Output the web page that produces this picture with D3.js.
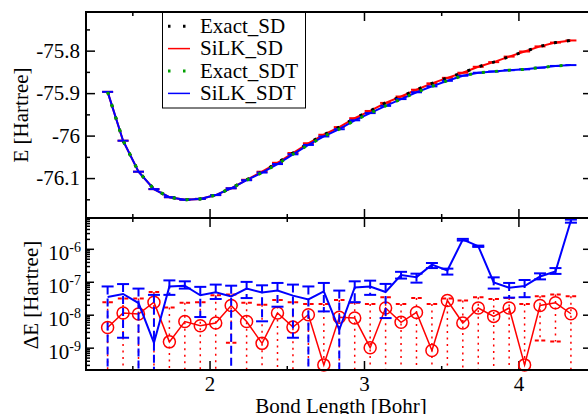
<!DOCTYPE html>
<html>
<head>
<meta charset="utf-8">
<script src="https://cdn.jsdelivr.net/npm/d3@7"></script>
<style>
body { margin: 0; background: #fff; }
svg text { font-family: "Liberation Serif", "Times New Roman", serif; fill: #000; }
</style>
</head>
<body>
<script>
// bond lengths [Bohr]
var bondLength = [1.34, 1.44, 1.54, 1.64, 1.74, 1.84, 1.94, 2.04, 2.14, 2.24, 2.34,
    2.44, 2.54, 2.64, 2.74, 2.84, 2.94, 3.04, 3.14, 3.24, 3.34, 3.44, 3.54, 3.64,
    3.74, 3.84, 3.94, 4.04, 4.14, 4.24, 4.34];

// total energies [Hartree] (exact and SiLK agree to ~1e-8)
var energySD = [-75.897, -76.012, -76.085, -76.126, -76.145, -76.151, -76.149, -76.140,
    -76.124, -76.104, -76.085, -76.064, -76.041, -76.018, -75.998, -75.980, -75.959,
    -75.942, -75.923, -75.908, -75.892, -75.877, -75.864, -75.852, -75.838, -75.827,
    -75.814, -75.802, -75.790, -75.781, -75.776];
var energySDT = [-75.897, -76.012, -76.085, -76.126, -76.145, -76.151, -76.149, -76.140,
    -76.124, -76.105, -76.087, -76.067, -76.044, -76.022, -76.002, -75.985, -75.964,
    -75.947, -75.930, -75.914, -75.898, -75.884, -75.871, -75.859, -75.852, -75.849,
    -75.846, -75.844, -75.840, -75.836, -75.834];

// |SiLK - exact| [Hartree]
var deltaSD = [4.1e-9, 1.13e-8, 1.05e-8, 2.4e-8, 1.5e-9, 6.2e-9, 4.6e-9, 5.6e-9, 1.9e-8,
    6.2e-9, 1.35e-9, 1.13e-8, 4.2e-9, 1.0e-8, 3.0e-10, 8.4e-9, 7.9e-9, 1.0e-9, 1.6e-8,
    5.9e-9, 1.17e-8, 8.2e-10, 2.7e-8, 5.6e-9, 1.6e-8, 8.9e-9, 1.6e-8, 3.0e-10, 1.9e-8,
    2.3e-8, 1.07e-8];
var deltaSDT = [3.45e-8, 4.25e-8, 2.26e-8, 1.4e-9, 7.2e-8, 7.6e-8, 3.9e-8, 4.8e-8, 3.6e-8,
    6.2e-8, 4.7e-8, 5.4e-8, 3.8e-8, 2.9e-8, 5.1e-8, 3.5e-9, 6.7e-8, 7.2e-8, 4.9e-8,
    1.6e-7, 1.38e-7, 3.3e-7, 2.2e-7, 1.9e-6, 1.2e-6, 9.6e-8, 6.6e-8, 7.4e-8, 1.44e-7,
    2.05e-7, 7.2e-6];

// error bar ends; 0 = lower end not positive (drawn down to the axis)
var errHiSD = [2.4e-8, 3.1e-8, 3.1e-8, 4.9e-8, 1.66e-8, 2.3e-8, 2.4e-8, 3.9e-8, 4.1e-8,
    2.3e-8, 2.0e-8, 2.8e-8, 2.4e-8, 2.1e-8, 2.1e-8, 2.8e-8, 2.3e-8, 2.1e-8, 3.4e-8,
    2.1e-8, 3.2e-8, 2.1e-8, 3.1e-8, 2.7e-8, 3.4e-8, 3.0e-8, 3.2e-8, 2.1e-8, 3.6e-8,
    4.1e-8, 3.6e-8];
var errLoSD = [0, 0, 0, 0, 0, 0, 0, 0, 1.4e-9, 0, 0, 0, 0, 0, 0, 0, 0, 0, 0, 0, 0, 0, 0,
    0, 0, 0, 0, 0, 1.66e-9, 1.55e-9, 0];
var errHiSDT = [7.2e-8, 8.5e-8, 6.2e-8, 4.0e-8, 1.1e-7, 1.03e-7, 7.0e-8, 8.2e-8, 7.6e-8,
    9.9e-8, 7.8e-8, 9.2e-8, 8.2e-8, 7.2e-8, 9.2e-8, 5.4e-8, 1.03e-7, 1.08e-7, 8.6e-8,
    2.0e-7, 1.76e-7, 3.7e-7, 2.5e-7, 2.0e-6, 1.25e-6, 1.36e-7, 9.2e-8, 1.13e-7, 1.8e-7,
    2.6e-7, 7.7e-6];
var errLoSDT = [0, 2.0e-9, 0, 0, 4.0e-8, 6.2e-8, 8.5e-9, 3.0e-8, 0, 3.2e-8, 6.3e-9,
    1.75e-8, 2.0e-9, 0, 1.26e-8, 0, 2.4e-8, 4.0e-8, 7.9e-9, 1.25e-7, 9.4e-8, 2.6e-7,
    1.65e-7, 1.78e-6, 1.14e-6, 6.2e-8, 3.3e-8, 3.4e-8, 1.18e-7, 1.73e-7, 6.2e-6];

// ticks
var bondTicks = [2, 3, 4];
var bondMinorTicks = [1.5, 2.5, 3.5];
var energyTicks = [-76.1, -76, -75.9, -75.8];
var energyMinorTicks = [-76.15, -76.05, -75.95, -75.85, -75.75];
var deltaTicks = [1e-9, 1e-8, 1e-7, 1e-6];

var legendNames = ["Exact_SD", "SiLK_SD", "Exact_SDT", "SiLK_SDT"];
var legendColors = ["#000000", "#ff0000", "#00a000", "#0000ff"];
var legendDotted = [true, false, true, false];

// layout
var W = 588, H = 414;
var left = 86, right = 591;
var topA = 12, botA = 218, topB = 218, botB = 370;
var fs = 21;
var dotDash = "3,10";

var svg = d3.select("body").append("svg")
    .attr("width", W)
    .attr("height", H);

var x = d3.scaleLinear().domain([1.2, 4.47]).range([left, right]);
var yE = d3.scaleLinear().domain([-76.194, -75.709]).range([botA, topA]);
var yD = d3.scaleLog().domain([2.1e-10, 8.6e-6]).range([botB, topB]);

function clean(g) {
    g.select(".domain").remove();
    g.selectAll(".tick line").attr("stroke", "#000").attr("stroke-width", 1.5);
    g.selectAll(".tick text").attr("font-size", fs).attr("fill", "#000");
}

function addAxis(axis, tx, ty) {
    return svg.append("g")
        .attr("transform", "translate(" + tx + "," + ty + ")")
        .call(axis)
        .call(clean);
}

// x ticks on all four horizontal edges
[[topA, "top"], [botA, "bottom"], [topB, "top"], [botB, "bottom"]].forEach(function(e) {
    var mk = e[1] == "top" ? d3.axisTop : d3.axisBottom;
    addAxis(mk(x).tickValues(bondTicks).tickSize(-9).tickFormat(""), 0, e[0]);
    addAxis(mk(x).tickValues(bondMinorTicks).tickSize(-4).tickFormat(""), 0, e[0]);
});
// bottom labels
addAxis(d3.axisBottom(x).tickValues(bondTicks).tickSize(0).tickPadding(6)
    .tickFormat(function(d) { return String(d); }), 0, botB);

// energy axis
addAxis(d3.axisLeft(yE).tickValues(energyTicks).tickSize(-9).tickPadding(6)
    .tickFormat(function(d) { return String(d); }), left, 0);
addAxis(d3.axisLeft(yE).tickValues(energyMinorTicks).tickSize(-4).tickFormat(""), left, 0);
addAxis(d3.axisRight(yE).tickValues(energyTicks).tickSize(-8).tickFormat(""), right, 0);

// delta axis (log)
var deltaMinor = [];
for (var e = -10; e <= -6; e++) {
    for (var k = 2; k <= 9; k++) {
        var v = k * Math.pow(10, e);
        if (v > yD.domain()[0] && v < yD.domain()[1]) deltaMinor.push(v);
    }
}
var gD = addAxis(d3.axisLeft(yD).tickValues(deltaTicks).tickSize(-8).tickPadding(5)
    .tickFormat(function() { return ""; }), left, 0);
gD.selectAll(".tick text").attr("dy", null).each(function(d) {
    var t = d3.select(this);
    t.append("tspan").attr("dy", 11).text("10");
    t.append("tspan").attr("dy", -8).attr("font-size", 14)
        .text("-" + Math.round(-Math.log10(d)));
});
addAxis(d3.axisLeft(yD).tickValues(deltaMinor).tickSize(-4).tickFormat(""), left, 0);
addAxis(d3.axisRight(yD).tickValues(deltaTicks).tickSize(-8).tickFormat(""), right, 0);

// ---------- top panel: energies ----------
var lineE = d3.line()
    .x(function(d, i) { return x(bondLength[i]); })
    .y(function(d) { return yE(d); });

function energyCaps(data, color) {
    svg.append("g").selectAll("line")
        .data(data).enter().append("line")
        .attr("x1", function(d, i) { return x(bondLength[i]) - 5.5; })
        .attr("x2", function(d, i) { return x(bondLength[i]) + 5.5; })
        .attr("y1", function(d) { return yE(d); })
        .attr("y2", function(d) { return yE(d); })
        .attr("stroke", color)
        .attr("stroke-width", 2);
}

svg.append("path").attr("d", lineE(energySD))
    .attr("fill", "none").attr("stroke", "#ff0000").attr("stroke-width", 2);
energyCaps(energySD, "#ff0000");
svg.append("path").attr("d", lineE(energySD))
    .attr("fill", "none").attr("stroke", "#000").attr("stroke-width", 3)
    .attr("stroke-dasharray", dotDash);
svg.append("path").attr("d", lineE(energySDT))
    .attr("fill", "none").attr("stroke", "#0000ff").attr("stroke-width", 2);
energyCaps(energySDT, "#0000ff");
svg.append("path").attr("d", lineE(energySDT))
    .attr("fill", "none").attr("stroke", "#00a000").attr("stroke-width", 3)
    .attr("stroke-dasharray", dotDash);

// ---------- bottom panel: errors ----------
function errorBars(hi, lo, color, dash, capDash, capW, width) {
    var g = svg.append("g");
    bondLength.forEach(function(b, i) {
        var cx = x(b);
        var y1 = yD(hi[i]);
        var y2 = lo[i] > 0 ? yD(lo[i]) : botB;
        g.append("line")
            .attr("x1", cx).attr("x2", cx).attr("y1", y1).attr("y2", y2)
            .attr("stroke", color).attr("stroke-width", width)
            .attr("stroke-dasharray", dash);
        var caps = [y1];
        if (lo[i] > 0) caps.push(y2);
        caps.forEach(function(cy) {
            g.append("line")
                .attr("x1", cx - capW / 2).attr("x2", cx + capW / 2)
                .attr("y1", cy).attr("y2", cy)
                .attr("stroke", color).attr("stroke-width", 2)
                .attr("stroke-dasharray", capDash);
        });
    });
}

var lineD = d3.line()
    .x(function(d, i) { return x(bondLength[i]); })
    .y(function(d) { return yD(d); });

errorBars(errHiSD, errLoSD, "#ff0000", "2,4.5", "4,2.5", 10.5, 1.5);
svg.append("path").attr("d", lineD(deltaSD))
    .attr("fill", "none").attr("stroke", "#ff0000").attr("stroke-width", 1.5);
svg.append("g").selectAll("circle")
    .data(deltaSD).enter().append("circle")
    .attr("cx", function(d, i) { return x(bondLength[i]); })
    .attr("cy", function(d) { return yD(d); })
    .attr("r", 6)
    .attr("fill", "none")
    .attr("stroke", "#ff0000")
    .attr("stroke-width", 1.5);

errorBars(errHiSDT, errLoSDT, "#0000ff", "8,4", null, 12, 2);
svg.append("path").attr("d", lineD(deltaSDT))
    .attr("fill", "none").attr("stroke", "#0000ff").attr("stroke-width", 2);

// ---------- frames ----------
svg.append("rect").attr("x", left).attr("y", topA)
    .attr("width", right - left).attr("height", botA - topA)
    .attr("fill", "none").attr("stroke", "#000").attr("stroke-width", 2);
svg.append("rect").attr("x", left).attr("y", topB)
    .attr("width", right - left).attr("height", botB - topB)
    .attr("fill", "none").attr("stroke", "#000").attr("stroke-width", 2);

// ---------- legend ----------
var lg = svg.append("g");
lg.append("rect").attr("x", 162.5).attr("y", 12.5).attr("width", 143).attr("height", 95.5)
    .attr("fill", "#fff").attr("stroke", "#000").attr("stroke-width", 1);
legendNames.forEach(function(name, i) {
    var base = 32.7 + 22.4 * i;
    var cy = base - 6.5;
    lg.append("line")
        .attr("x1", 168).attr("x2", 190).attr("y1", cy).attr("y2", cy)
        .attr("stroke", legendColors[i])
        .attr("stroke-width", legendDotted[i] ? 3 : 1.5)
        .attr("stroke-dasharray", legendDotted[i] ? "2.5,12.5" : null);
    lg.append("text").attr("x", 200).attr("y", base)
        .attr("font-size", fs).text(name);
});

// ---------- axis titles ----------
svg.append("text")
    .attr("transform", "translate(28,115)rotate(-90)")
    .attr("text-anchor", "middle").attr("font-size", fs)
    .text("E [Hartree]");
svg.append("text")
    .attr("transform", "translate(38,295)rotate(-90)")
    .attr("text-anchor", "middle").attr("font-size", fs)
    .text("\u0394E [Hartree]");
svg.append("text")
    .attr("x", 341).attr("y", 413)
    .attr("text-anchor", "middle").attr("font-size", fs)
    .text("Bond Length [Bohr]");
</script>
</body>
</html>
